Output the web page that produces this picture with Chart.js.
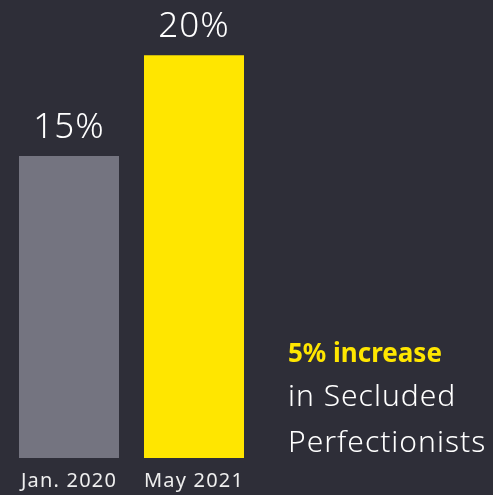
<!DOCTYPE html>
<html>
<head>
<meta charset="utf-8">
<script src="https://cdn.jsdelivr.net/npm/chart.js@4.4.1/dist/chart.umd.min.js"></script>
<style>
  html, body { margin: 0; padding: 0; background: #2e2e38; }
  #wrap { position: relative; width: 493px; height: 495px; overflow: hidden; }
  #note { position: absolute; left: 288px; top: 332.5px; font-family: "Noto Sans", sans-serif; color: #ffffff; white-space: nowrap; }
  #note .hi { color: #ffe600; font-weight: bold; font-size: 26px; line-height: 39px; }
  #note .lo { font-size: 30px; line-height: 46px; font-weight: 300; letter-spacing: 1px; }
</style>
</head>
<body>
<div id="wrap">
  <canvas id="surveyChart" width="493" height="495"></canvas>
  <div id="note">
    <div class="hi">5% increase</div>
    <div class="lo">in Secluded</div>
    <div class="lo">Perfectionists</div>
  </div>
</div>
<script>
var periods = ['Jan. 2020', 'May 2021'];
var shares = [15, 20];
var barColors = ['#747480', '#ffe600'];

// wider tracking for the axis labels
var tracking = {
  id: 'tracking',
  beforeDraw: function(chart) {
    chart.ctx.letterSpacing = '1.2px';
  }
};

// value labels above each bar
var valueLabels = {
  id: 'valueLabels',
  afterDatasetsDraw: function(chart) {
    var ctx = chart.ctx;
    var meta = chart.getDatasetMeta(0);
    ctx.save();
    ctx.letterSpacing = '1px';
    ctx.fillStyle = '#ffffff';
    ctx.font = '300 35px "Noto Sans", sans-serif';
    ctx.textAlign = 'center';
    ctx.textBaseline = 'alphabetic';
    meta.data.forEach(function(bar, i) {
      ctx.fillText(shares[i] + '%', bar.x, bar.y - 18);
    });
    ctx.restore();
  }
};

var ctx = document.getElementById('surveyChart').getContext('2d');
var chart = new Chart(ctx, {
  type: 'bar',
  data: {
    labels: periods,
    datasets: [{
      data: shares,
      backgroundColor: barColors,
      borderWidth: 0,
      barPercentage: 0.8,
      categoryPercentage: 1.0
    }]
  },
  options: {
    responsive: false,
    animation: false,
    layout: { padding: { left: 6.5, right: 236.5, top: 15, bottom: 0 } },
    plugins: {
      legend: { display: false },
      tooltip: { enabled: false }
    },
    scales: {
      x: {
        grid: { display: false, drawTicks: false },
        border: { display: false },
        ticks: {
          color: '#eeeeee',
          padding: 11,
          font: { family: '"Noto Sans", sans-serif', size: 20 }
        },
        afterFit: function(scale) { scale.height = 37; }
      },
      y: {
        display: false,
        min: 0,
        max: 22
      }
    }
  },
  plugins: [tracking, valueLabels]
});
</script>
</body>
</html>
